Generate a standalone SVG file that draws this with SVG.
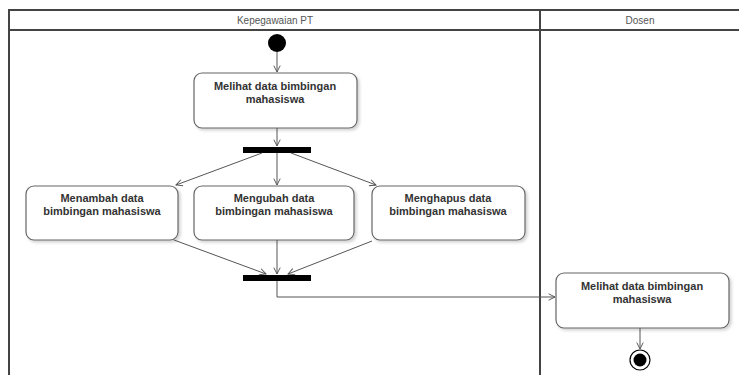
<svg xmlns="http://www.w3.org/2000/svg" width="739" height="375" viewBox="0 0 739 375">
  <style>
    .lane { fill: none; stroke: #444; stroke-width: 2; }
    .hdr { font-family: "Liberation Sans", Arial, sans-serif; font-size: 10px; fill: #555; text-anchor: middle; }
    .act rect { fill: #fff; stroke: #666; stroke-width: 1.2; }
    .act text { font-family: "Liberation Sans", Arial, sans-serif; font-size: 11px; font-weight: bold; fill: #333; text-anchor: middle; }
    .bar { fill: #000; }
    .flow { fill: none; stroke: #555; stroke-width: 1; marker-end: url(#arr); }
  </style>
  <defs>
    <marker id="arr" viewBox="0 0 10 10" refX="9" refY="5" markerWidth="8" markerHeight="8" orient="auto" markerUnits="userSpaceOnUse">
      <path d="M1,1 L9,5 L1,9" fill="none" stroke="#555" stroke-width="1.2"/>
    </marker>
    <filter id="sh" x="-10%" y="-10%" width="130%" height="140%">
      <feDropShadow dx="2" dy="2" stdDeviation="1.5" flood-color="#000" flood-opacity="0.18"/>
    </filter>
  </defs>

  <rect width="739" height="375" fill="#fff"/>

  <!-- swimlanes -->
  <g id="lanes">
    <path class="lane" d="M9,375 V10 H745"/>
    <line class="lane" x1="9" y1="30" x2="745" y2="30"/>
    <line class="lane" x1="540" y1="10" x2="540" y2="375"/>
    <text class="hdr" x="275" y="24">Kepegawaian PT</text>
    <text class="hdr" x="640" y="24">Dosen</text>
  </g>

  <g id="start">
    <circle cx="277" cy="43" r="9" fill="#000"/>
  </g>

  <g id="lihat1" class="act">
    <rect x="194" y="73" width="163" height="55" rx="8" filter="url(#sh)"/>
    <text x="275" y="90">Melihat data bimbingan</text>
    <text x="275" y="103">mahasiswa</text>
  </g>

  <g id="fork">
    <rect class="bar" x="243" y="147" width="68" height="6"/>
  </g>

  <g id="tambah" class="act">
    <rect x="26" y="186" width="152" height="54" rx="8" filter="url(#sh)"/>
    <text x="102" y="202">Menambah data</text>
    <text x="102" y="215">bimbingan mahasiswa</text>
  </g>

  <g id="ubah" class="act">
    <rect x="194" y="186" width="160" height="54" rx="8" filter="url(#sh)"/>
    <text x="274" y="202">Mengubah data</text>
    <text x="274" y="215">bimbingan mahasiswa</text>
  </g>

  <g id="hapus" class="act">
    <rect x="372" y="186" width="153" height="54" rx="8" filter="url(#sh)"/>
    <text x="448" y="202">Menghapus data</text>
    <text x="448" y="215">bimbingan mahasiswa</text>
  </g>

  <g id="join">
    <rect class="bar" x="243" y="275" width="68" height="6"/>
  </g>

  <g id="lihat2" class="act">
    <rect x="556" y="273" width="173" height="55" rx="8" filter="url(#sh)"/>
    <text x="642" y="290">Melihat data bimbingan</text>
    <text x="642" y="303">mahasiswa</text>
  </g>

  <g id="end">
    <circle cx="640" cy="360" r="10" fill="#fff" stroke="#000" stroke-width="1.2"/>
    <circle cx="640" cy="360" r="6.5" fill="#000"/>
  </g>

  <!-- control flows -->
  <g id="connectors">
    <line class="flow" x1="277" y1="52" x2="277" y2="72"/>
    <line class="flow" x1="277" y1="128" x2="277" y2="146"/>
    <line class="flow" x1="262" y1="153" x2="176" y2="185"/>
    <line class="flow" x1="277" y1="153" x2="277" y2="185"/>
    <line class="flow" x1="291" y1="153" x2="376" y2="185"/>
    <line class="flow" x1="174" y1="240" x2="266" y2="274"/>
    <line class="flow" x1="277" y1="240" x2="277" y2="274"/>
    <line class="flow" x1="372" y1="241" x2="288" y2="274"/>
    <polyline class="flow" points="277,281 277,297 555,297"/>
    <line class="flow" x1="640" y1="328" x2="640" y2="349"/>
  </g>
</svg>
